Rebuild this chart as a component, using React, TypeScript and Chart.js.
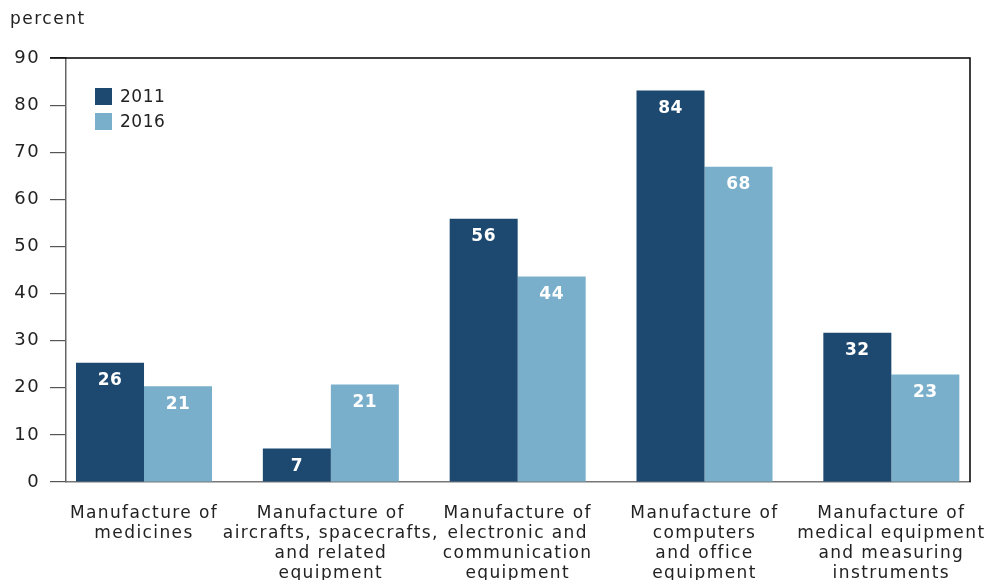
import React, { useEffect, useRef } from "react";
import { Chart, registerables } from "chart.js";

Chart.register(...registerables);

const categories: string[][] = [
  ["Manufacture of", "medicines"],
  ["Manufacture of", "aircrafts, spacecrafts,", "and related", "equipment"],
  ["Manufacture of", "electronic and", "communication", "equipment"],
  ["Manufacture of", "computers", "and office", "equipment"],
  ["Manufacture of", "medical equipment", "and measuring", "instruments"],
];
const seriesNames = ["2011", "2016"];
const values2011 = [25.3, 7.1, 55.9, 83.1, 31.7];
const values2016 = [20.3, 20.7, 43.6, 66.9, 22.8];
const labels2011 = ["26", "7", "56", "84", "32"];
const labels2016 = ["21", "21", "44", "68", "23"];
const yTicks = [0, 10, 20, 30, 40, 50, 60, 70, 80, 90];

const DARK = "#1d4870";
const LIGHT = "#7aafcb";
const FONT = "'DejaVu Sans', sans-serif";
const SPACING = "1.4px";

export default function App() {
  const ref = useRef<HTMLCanvasElement | null>(null);

  useEffect(() => {
    document.body.style.margin = "0";
    const canvas = ref.current!;
    const valueLabels = [labels2011, labels2016];

    const spacing = {
      id: "spacing",
      beforeInit(chart: any) {
        chart.ctx.letterSpacing = SPACING;
      },
      beforeLayout(chart: any) {
        chart.ctx.letterSpacing = SPACING;
      },
      beforeDraw(chart: any) {
        chart.ctx.letterSpacing = SPACING;
      },
    };

    const overlay = {
      id: "overlay",
      afterDatasetsDraw(chart: any) {
        const ctx = chart.ctx;
        ctx.save();
        ctx.letterSpacing = "0.5px";
        ctx.fillStyle = "#ffffff";
        ctx.font = `bold 17px ${FONT}`;
        ctx.textAlign = "center";
        ctx.textBaseline = "middle";
        chart.data.datasets.forEach((ds: any, di: number) => {
          const meta = chart.getDatasetMeta(di);
          meta.data.forEach((bar: any, i: number) => {
            ctx.fillText(valueLabels[di][i], bar.x, bar.y + 18);
          });
        });
        ctx.restore();
      },
      afterDraw(chart: any) {
        const ctx = chart.ctx;
        const a = chart.chartArea;
        ctx.save();
        ctx.strokeStyle = "#000000";
        ctx.lineWidth = 1.5;
        ctx.beginPath();
        ctx.moveTo(50, a.top);
        ctx.lineTo(a.right, a.top);
        ctx.lineTo(a.right, a.bottom);
        ctx.stroke();
        ctx.letterSpacing = "1.5px";
        ctx.fillStyle = "#222222";
        ctx.font = `17px ${FONT}`;
        ctx.textAlign = "left";
        ctx.textBaseline = "middle";
        ctx.fillText("percent", 10, 20);
        const colors = [DARK, LIGHT];
        ctx.letterSpacing = "0.5px";
        seriesNames.forEach((name, i) => {
          const y = 88 + i * 25;
          ctx.fillStyle = colors[i];
          ctx.fillRect(95, y, 17, 17);
          ctx.fillStyle = "#222222";
          ctx.font = `17px ${FONT}`;
          ctx.fillText(name, 120, y + 9.5);
        });
        ctx.restore();
      },
    };

    const chart = new Chart(canvas, {
      type: "bar",
      data: {
        datasets: [
          {
            label: seriesNames[0],
            data: values2011.map((v, i) => ({ x: i, y: v })),
            backgroundColor: DARK,
            categoryPercentage: 0.728,
            barPercentage: 1,
          },
          {
            label: seriesNames[1],
            data: values2016.map((v, i) => ({ x: i, y: v })),
            backgroundColor: LIGHT,
            categoryPercentage: 0.728,
            barPercentage: 1,
          },
        ] as any,
      },
      options: {
        animation: false,
        responsive: false,
        maintainAspectRatio: false,
        layout: { padding: { top: 58, right: 15, left: 0, bottom: 0 } },
        plugins: { legend: { display: false }, tooltip: { enabled: false } },
        scales: {
          x: {
            type: "linear",
            offset: false,
            min: -0.4176,
            max: 4.421,
            grid: { display: false, drawTicks: false, offset: false },
            border: { display: true, color: "#777777", width: 1.5 },
            afterBuildTicks: (scale: any) => {
              scale.ticks = categories.map((_, i) => ({ value: i }));
            },
            afterFit: (scale: any) => {
              scale.height = 98;
              scale.paddingLeft = 0;
              scale.paddingRight = 0;
            },
            ticks: {
              autoSkip: false,
              maxRotation: 0,
              minRotation: 0,
              padding: 22,
              color: "#222222",
              font: { family: FONT, size: 17, lineHeight: 20 / 17 },
              callback: (v: any) => categories[Math.round(Number(v))] ?? "",
            },
          },
          y: {
            min: 0,
            max: 90,
            afterBuildTicks: (scale: any) => {
              scale.ticks = yTicks.map((v) => ({ value: v }));
            },
            afterFit: (scale: any) => {
              scale.width = 66;
              scale.paddingTop = 0;
              scale.paddingBottom = 0;
            },
            grid: {
              drawOnChartArea: false,
              drawTicks: true,
              tickLength: 16,
              color: "#555555",
              lineWidth: 1.2,
            },
            border: { display: true, color: "#666666", width: 1.5 },
            ticks: {
              padding: 10,
              color: "#222222",
              font: { family: FONT, size: 18 },
            },
          },
        },
      } as any,
      plugins: [spacing, overlay],
    });
    return () => chart.destroy();
  }, []);

  return (
    <div style={{ width: 985, height: 580, overflow: "hidden" }}>
      <canvas ref={ref} width={985} height={580} style={{ display: "block" }} />
    </div>
  );
}
